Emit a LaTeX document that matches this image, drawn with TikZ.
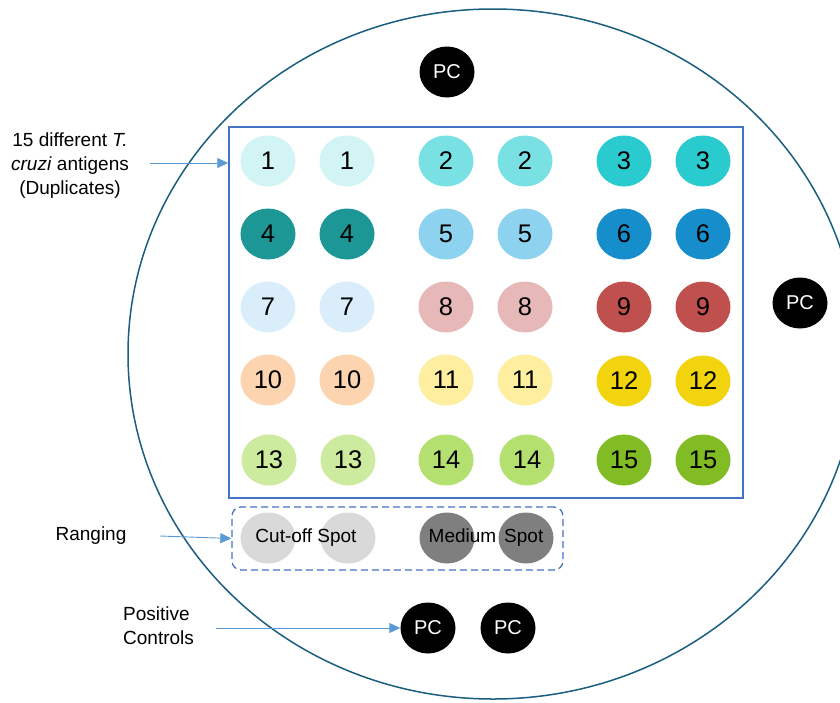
\documentclass[tikz,border=0pt]{standalone}
\usepackage{fontspec}
\setmainfont{Liberation Sans}
\usetikzlibrary{shapes.geometric,arrows.meta}
\definecolor{rim}{HTML}{1B5E80}
\definecolor{gridblue}{HTML}{4472C4}
\definecolor{arrowblue}{HTML}{5B9BD5}
\definecolor{c1}{HTML}{D2F4F4}
\definecolor{c2}{HTML}{79E0E3}
\definecolor{c3}{HTML}{2ACBCF}
\definecolor{c4}{HTML}{1D9696}
\definecolor{c5}{HTML}{8DD3F0}
\definecolor{c6}{HTML}{168ECB}
\definecolor{c7}{HTML}{D9EEFA}
\definecolor{c8}{HTML}{E6B8B7}
\definecolor{c9}{HTML}{C0504D}
\definecolor{c10}{HTML}{FCD5B0}
\definecolor{c11}{HTML}{FDEEA0}
\definecolor{c12}{HTML}{F2D40E}
\definecolor{c13}{HTML}{CDEB9F}
\definecolor{c14}{HTML}{B3E06E}
\definecolor{c15}{HTML}{82BC25}
\definecolor{lightspot}{HTML}{D9D9D9}
\definecolor{darkspot}{HTML}{7F7F7F}
\begin{document}
\begin{tikzpicture}[x=1pt,y=-1pt,
  spot/.style={ellipse, minimum width=55pt, minimum height=51pt, inner sep=0pt,
    font=\fontsize{25.5}{30}\selectfont},
  pcspot/.style={spot, fill=black, text=white, font=\fontsize{20}{24}\selectfont},
  ptr/.style={draw=arrowblue, line width=0.9pt, -{Triangle[length=11pt,width=10pt]}},
  lbl/.style={font=\fontsize{19}{24}\selectfont, inner sep=0pt},
  spottext/.style={font=\fontsize{19}{24}\selectfont, inner sep=0pt}]
\useasboundingbox (0,0) rectangle (840,702);
\fill[white] (0,0) rectangle (840,702);
\begin{scope}
  \clip (0,0) rectangle (840,702);
  \draw[rim, line width=1.5pt] (493,354) ellipse [x radius=365, y radius=345];
\end{scope}

% antigen grid frame
\node[draw=gridblue, line width=1.5pt, minimum width=514pt, minimum height=371pt,
      inner sep=0pt] (grid) at (486,312.5) {};

% antigen spots (duplicates)
\foreach \n/\y/\xa/\xb in {1/161/268/347, 2/161/446/525, 3/161/624/703,
                          4/234/268/347, 5/234/446/525, 6/234/624/703,
                          7/307/268/347, 8/307/446/525, 9/307/624/703,
                          10/380/268/347, 11/380/446/525, 12/381/624/703,
                          13/460/269/348, 14/460/446/527, 15/460/624/703}{
  \node[spot, fill=c\n] (s\n-a) at (\xa,\y) {\n};
  \node[spot, fill=c\n] (s\n-b) at (\xb,\y) {\n};
}

% ranging box
\node[draw=gridblue, dashed, dash pattern=on 7pt off 4pt, line width=1.3pt,
      rounded corners=9pt, minimum width=331pt, minimum height=63pt,
      inner sep=0pt] (rng) at (397.5,538.5) {};
\node[spot, fill=lightspot] (cut-a) at (268,538) {};
\node[spot, fill=lightspot] (cut-b) at (348,538) {};
\node[spot, fill=darkspot] (med-a) at (447,538) {};
\node[spot, fill=darkspot] (med-b) at (526,538) {};
\node[spottext] (cuttxt) at (306,538) {Cut-off Spot};
\node[spottext] (medtxt) at (486,538) {Medium\hspace{8pt}Spot};

% positive controls
\node[pcspot] (pctop) at (447,72) {PC};
\node[pcspot] (pcright) at (800,303) {PC};
\node[pcspot] (pcb1) at (428,628) {PC};
\node[pcspot] (pcb2) at (508,628) {PC};

% labels
\node[lbl, align=center] (lab1) at (70,166)
  {15 different \textit{T.}\\\textit{cruzi} antigens\\(Duplicates)};
\node[lbl] (lab2) at (91,536) {Ranging};
\node[lbl, align=left, anchor=west] (lab3) at (123,626) {Positive\\Controls};

% pointers
\coordinate (a1) at (150,163);
\coordinate (a2) at (160,536);
\coordinate (a3) at (216,628);
\draw[ptr] (a1) -- (a1 -| grid.west);
\draw[ptr] (a2) -- (rng.west);
\draw[ptr] (a3) -- (pcb1.west);
\end{tikzpicture}
\end{document}
